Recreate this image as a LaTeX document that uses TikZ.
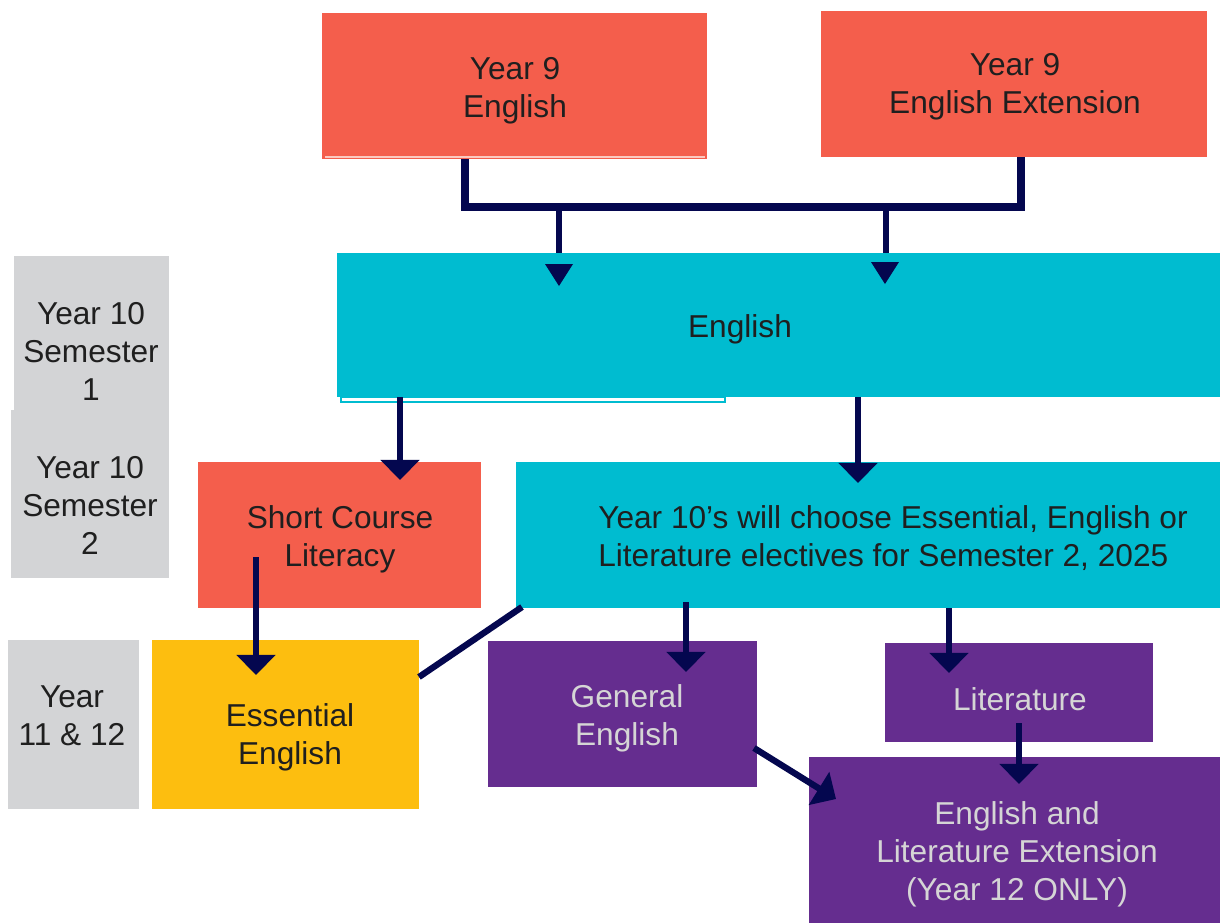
\documentclass[tikz,border=0pt]{standalone}
\usepackage{fontspec}
\setmainfont{Liberation Sans}
\usetikzlibrary{arrows.meta,calc}
\definecolor{cred}{HTML}{F45E4C}
\definecolor{cteal}{HTML}{00BCD0}
\definecolor{cyel}{HTML}{FDBE0F}
\definecolor{cpur}{HTML}{652D8F}
\definecolor{cgray}{HTML}{D3D4D6}
\definecolor{cnavy}{HTML}{04074F}
\definecolor{cdark}{HTML}{1F1F1F}
\definecolor{clight}{HTML}{D5D5D5}
\definecolor{cpale}{HTML}{FBC9C0}
\begin{document}
\begin{tikzpicture}[x=0.01cm,y=-0.01cm,
  box/.style={rectangle,draw=none,inner sep=0pt,outer sep=0pt,anchor=north west},
  txt/.style={font=\fontsize{9.0}{10.8}\selectfont,align=center,text=cdark,inner sep=0pt},
  ptxt/.style={txt,text=clight},
  conn/.style={cnavy,line width=1.8pt},
  bar/.style={cnavy,line width=2.2pt,line join=miter},
  arr/.style={cnavy,line width=1.8pt,-{Triangle[length=5.7pt,width=10.8pt]}}]
\useasboundingbox (0,0) rectangle (1220,923);
\fill[white] (0,0) rectangle (1220,923);
% boxes
\node[box,fill=cred,minimum width=3.85cm,minimum height=1.46cm] (y9e) at (322,13) {};
\node[box,fill=cred,minimum width=3.86cm,minimum height=1.46cm] (y9x) at (821,11) {};
\node[box,fill=cteal,minimum width=8.83cm,minimum height=1.44cm] (eng) at (337,253) {};
\node[box,fill=cgray,minimum width=1.55cm,minimum height=1.54cm] (s1) at (14,256) {};
\node[box,fill=cgray,minimum width=1.58cm,minimum height=1.68cm] (s2) at (11,410) {};
\node[box,fill=cgray,minimum width=1.31cm,minimum height=1.69cm] (y1112) at (8,640) {};
\node[box,fill=cred,minimum width=2.83cm,minimum height=1.46cm] (sc) at (198,462) {};
\node[box,fill=cteal,minimum width=7.04cm,minimum height=1.46cm] (y10) at (516,462) {};
\node[box,fill=cyel,minimum width=2.67cm,minimum height=1.69cm] (ess) at (152,640) {};
\node[box,fill=cpur,minimum width=2.69cm,minimum height=1.46cm] (gen) at (488,641) {};
\node[box,fill=cpur,minimum width=2.68cm,minimum height=0.99cm] (lit) at (885,643) {};
\node[box,fill=cpur,minimum width=4.11cm,minimum height=1.66cm] (ext) at (809,757) {};
% small details
\draw[cpale,line width=0.5pt] (325,157) -- (705,157);
\draw[cteal,line width=0.7pt] (341,397) rectangle (725,402);
% texts
\node[txt] (t-y9e) at (515,91) {Year 9\\English};
\node[txt] (t-y9x) at (1015,87) {Year 9\\English Extension};
\node[txt] (t-eng) at (740,329) {English};
\node[txt] (t-s1) at (91,351) {Year 10\\Semester\\1};
\node[txt] (t-s2) at (90,505) {Year 10\\Semester\\2};
\node[txt] (t-y1112) at (72,716) {Year\\11 \& 12};
\node[txt] (t-sc) at (340,539) {Short Course\\Literacy};
\node[txt,align=left] (t-y10) at (893,538) {Year 10’s will choose Essential, English or\\Literature electives for Semester 2, 2025};
\node[txt] (t-ess) at (290,737) {Essential\\English};
\node[ptxt] (t-gen) at (627,718) {General\\English};
\node[ptxt] (t-lit) at (1020,699) {Literature};
\node[ptxt] (t-ext) at (1017,854) {English and\\Literature Extension\\(Year 12 ONLY)};
% top connectors
\coordinate (jl) at (465,207);
\coordinate (jr) at (1021,207);
\draw[bar] (jl |- y9e.south) -- (jl) -- (jr) -- (jr |- y9x.south);
\coordinate (d1) at (559,207);
\coordinate (d2) at (886,207);
\coordinate (t1) at (559,286);
\coordinate (t2) at (885,284);
\draw[conn] (d1) -- (d1 |- eng.north);
\draw[conn] (d2) -- (d2 |- eng.north);
\fill[cnavy] ($(t1)+(-14,-22)$) -- ($(t1)+(14,-22)$) -- (t1) -- cycle;
\fill[cnavy] ($(t2)+(-14,-22)$) -- ($(t2)+(14,-22)$) -- (t2) -- cycle;
% arrows
\coordinate (a1) at (400,480);
\coordinate (a2) at (858,483);
\coordinate (s3) at (256,557);
\coordinate (a3) at (256,675);
\coordinate (a4) at (686,672);
\coordinate (a5) at (949,673);
\coordinate (s6) at (1019,723);
\coordinate (a6) at (1019,784);
\coordinate (s7) at (754,748);
\coordinate (a7) at (836,799);
\coordinate (l1) at (419,677);
\coordinate (l2) at (522,607);
\draw[arr] (eng.south -| a1) -- (a1);
\draw[arr] (eng.south -| a2) -- (a2);
\draw[arr] (s3) -- (a3);
\draw[arr] ($(y10.south -| a4)+(0,-6)$) -- (a4);
\draw[arr] (y10.south -| a5) -- (a5);
\draw[arr] (s6) -- (a6);
\draw[arr] (s7) -- (a7);
\draw[conn] (l1) -- (l2);
\end{tikzpicture}
\end{document}
